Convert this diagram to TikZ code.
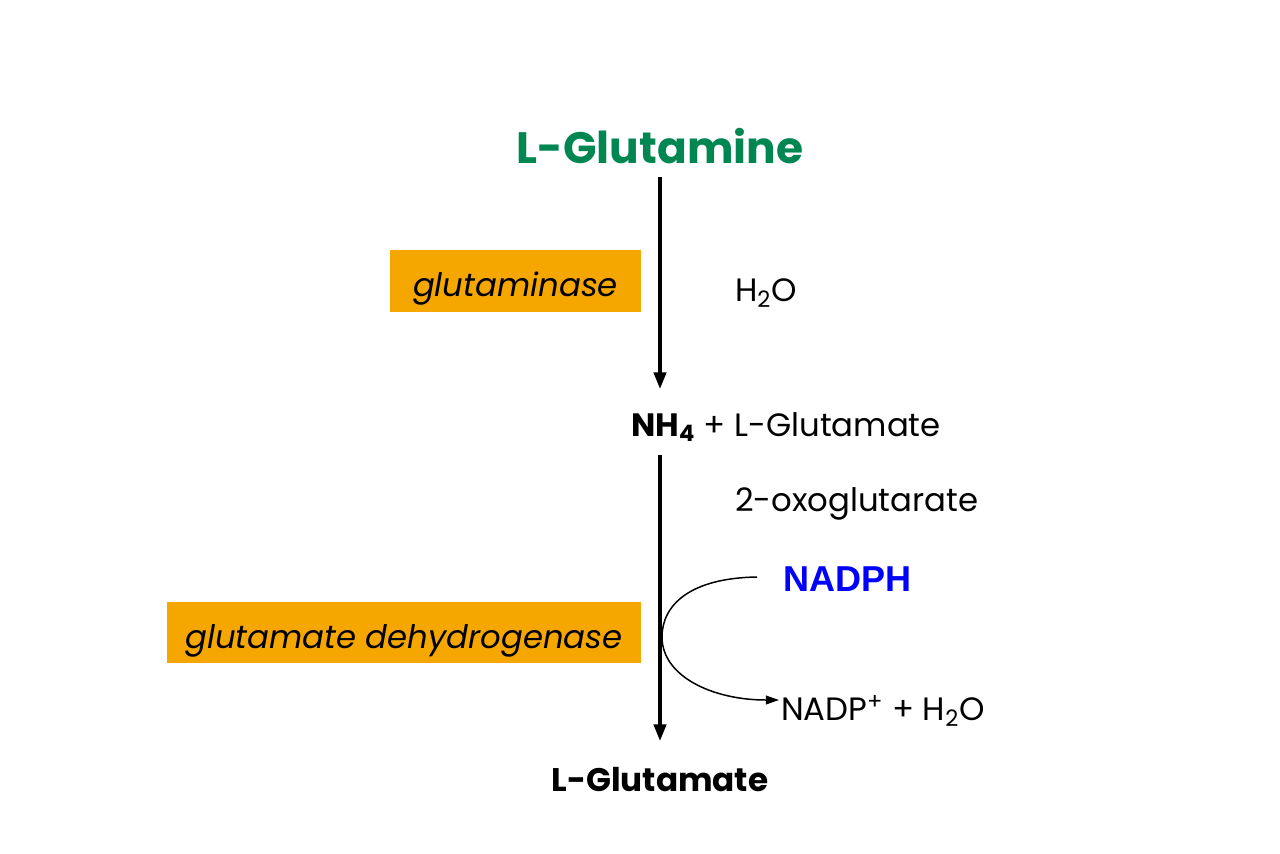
\documentclass[tikz,border=0pt]{standalone}
\usepackage{fontspec}
\setmainfont{Poppins}
\newfontfamily\arialfont{Liberation Sans}
\usetikzlibrary{arrows.meta, positioning}
\definecolor{Amber}{HTML}{F5A700}
\definecolor{Leaf}{HTML}{008751}
\definecolor{Royal}{HTML}{0000FF}
\tikzset{
  enzyme/.style={rectangle, fill=Amber, inner sep=0pt, text height=20pt, text depth=2pt,
                 font=\fontsize{18.4}{22}\selectfont\itshape},
  species/.style={inner sep=1pt, font=\fontsize{18.4}{22}\selectfont},
  react/.style={line width=2pt, -{Triangle[length=9.5pt,width=7pt]}},
  cofactor/.style={line width=0.85pt, -{Triangle[length=7.5pt,width=5pt]}}
}
\begin{document}
\begin{tikzpicture}[x=0.02cm, y=-0.02cm]
    \useasboundingbox (0,0) rectangle (1280,853);
    % Substrate and products
    \node[species, text=Leaf, font=\fontsize{25}{30}\selectfont\bfseries] (gln) at (660,146) {L-Glutamine};
    \node[species, anchor=west] (mid) at (629,427) {\textbf{NH\textsubscript{4}} + L-Glutamate};
    \node[species, font=\fontsize{18.6}{22}\selectfont\bfseries] (glu) at (660,780) {L-Glutamate};

    % Enzymes
    \node[enzyme, minimum width=5.02cm, minimum height=1.24cm] (gls) at (515.5,281) {glutaminase};
    \node[enzyme, minimum width=9.48cm, minimum height=1.22cm] (gdh) at (404,632.5) {glutamate dehydrogenase};

    % Co-substrates
    \node[species, anchor=west] (water) at (733,293) {H\textsubscript{2}O};
    \node[species, anchor=west] (oxo) at (733,504) {2-oxoglutarate};
    \node[species, anchor=west, text=Royal, font=\fontsize{20.5}{24}\selectfont\arialfont\bfseries] (nadph) at (781,579) {NADPH};
    \node[species, anchor=west] (nadp) at (779,711) {NADP\textsuperscript{+} + H\textsubscript{2}O};

    % Reaction arrows
    \draw[react] (gln.south |- 0,177) -- (660,389);
    \draw[react] (660,455) -- (glu.north |- 0,741);
    \coordinate (cstart) at (757,577);
    \draw[cofactor] (cstart) .. controls (690,578) and (662,605) .. (662,637)
        .. controls (662,676) and (712,700) .. (nadp.west |- 0,700);
\end{tikzpicture}
\end{document}
